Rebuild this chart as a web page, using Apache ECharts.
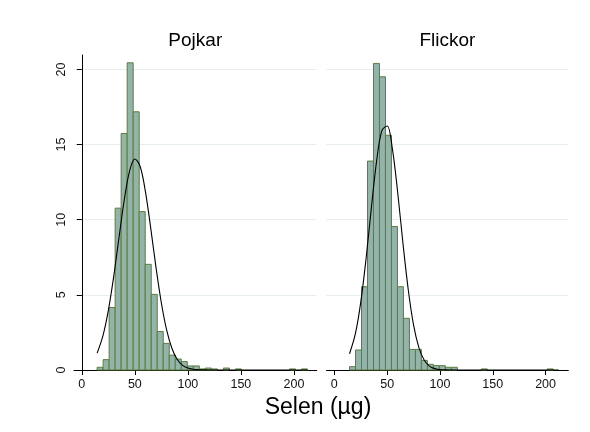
<!DOCTYPE html>
<html>
<head>
<meta charset="utf-8">
<script src="https://cdn.jsdelivr.net/npm/echarts@6/dist/echarts.min.js"></script>
<style>
  html, body { margin: 0; padding: 0; background: #fff; }
  #chart { width: 590px; height: 432px; }
</style>
</head>
<body>
<div id="chart"></div>
<script>
// Histogram bins shared by both panels (Selen, µg)
const binStart = 14.4;
const binWidth = 5.67;

// Percent of children in each bin
const pojkarPct = [0.18, 0.69, 4.16, 10.77, 15.74, 20.44, 17.18, 10.54, 7.03, 5.03,
                   2.56, 1.77, 0.99, 0.73, 0.56, 0.27, 0.27, 0.07, 0.13, 0.07,
                   0, 0.13, 0, 0.07, 0, 0, 0, 0, 0, 0,
                   0, 0, 0.07, 0, 0.07];
const flickorPct = [0.22, 1.33, 5.54, 13.9, 20.4, 19.51, 15.62, 9.55, 5.54, 3.44,
                    1.37, 1.37, 0.64, 0.38, 0.29, 0.29, 0.18, 0.18, 0, 0,
                    0, 0, 0.07, 0, 0, 0, 0, 0, 0, 0,
                    0, 0, 0, 0.07];

// Normal density overlay (percent scale)
const curveX = [14.4, 20, 25, 30, 35, 40, 45, 50, 55, 60, 65, 70, 75, 80, 85, 90,
                95, 100, 105, 110, 115, 120, 140, 160, 180, 200, 212.5];
const pojkarCurve = [1.12, 2.31, 3.97, 6.20, 8.79, 11.31, 13.23, 14.04, 13.54, 11.85,
                     9.42, 6.80, 4.46, 2.65, 1.43, 0.70, 0.31, 0.13, 0.05, 0.02, 0.01,
                     0, 0, 0, 0, 0, 0];
const flickorCurve = [1.08, 2.43, 4.50, 7.37, 10.74, 13.88, 15.93, 16.24, 14.70, 11.81,
                      8.42, 5.34, 3.00, 1.50, 0.66, 0.26, 0.09, 0.03, 0.01, 0, 0,
                      0, 0, 0, 0, 0, 0];

const panelTitles = ['Pojkar', 'Flickor'];
const xTicks = [0, 50, 100, 150, 200];
const yTicks = [0, 5, 10, 15, 20];
const xTitle = 'Selen (µg)';

const FONT = '"Liberation Sans", Arial, sans-serif';
const BAR_FILL = '#95b4a8';
const BAR_EDGE = '#5b7d3b';
const GRID_COLOR = '#e6eeee';

function binData(pcts) {
  return pcts.map((v, i) => [binStart + i * binWidth, binStart + (i + 1) * binWidth, v])
             .filter(d => d[2] > 0);
}

function renderBin(params, api) {
  const x0 = api.value(0), x1 = api.value(1), h = api.value(2);
  const tl = api.coord([x0, h]);
  const br = api.coord([x1, 0]);
  return {
    type: 'rect',
    shape: { x: tl[0], y: tl[1], width: br[0] - tl[0], height: br[1] - tl[1] },
    style: { fill: BAR_FILL, stroke: BAR_EDGE, lineWidth: 1 }
  };
}

const grids = [
  { left: 74, top: 55, width: 242.7, height: 315 },
  { left: 326.5, top: 55, width: 241.8, height: 315 }
];

const xAxes = grids.map((g, i) => ({
  type: 'value', gridIndex: i, min: -7.4, max: 221.5,
  axisLine: { show: true, onZero: false, lineStyle: { color: '#000', width: 1 } },
  axisTick: { show: true, customValues: xTicks, length: 5, lineStyle: { color: '#000' } },
  axisLabel: { show: true, customValues: xTicks, color: '#111', fontSize: 12.5,
               fontFamily: FONT, margin: 8 },
  splitLine: { show: false }
}));

const yAxes = grids.map((g, i) => ({
  type: 'value', gridIndex: i, min: 0, max: 20.96,
  axisLine: { show: i === 0, lineStyle: { color: '#000', width: 1 } },
  axisTick: { show: i === 0, customValues: yTicks, length: 5, lineStyle: { color: '#000' } },
  axisLabel: { show: i === 0, customValues: yTicks, rotate: 90, color: '#111',
               fontSize: 12.5, fontFamily: FONT, margin: 6 },
  splitLine: { show: true, lineStyle: { color: GRID_COLOR, width: 1 } }
}));

const series = [];
[pojkarPct, flickorPct].forEach((pcts, i) => {
  series.push({
    type: 'custom', xAxisIndex: i, yAxisIndex: i,
    renderItem: renderBin, data: binData(pcts), silent: true
  });
});
[pojkarCurve, flickorCurve].forEach((vals, i) => {
  series.push({
    type: 'line', xAxisIndex: i, yAxisIndex: i,
    data: curveX.map((x, k) => [x, vals[k]]),
    smooth: 0.35, showSymbol: false, silent: true,
    lineStyle: { color: '#000', width: 1.1 }, z: 5
  });
});

const chart = echarts.init(document.getElementById('chart'), null, { renderer: 'canvas' });
chart.setOption({
  animation: false,
  backgroundColor: '#fff',
  grid: grids,
  xAxis: xAxes,
  yAxis: yAxes,
  series: series,
  graphic: [
    { type: 'text', x: 195.3, y: 41, style: { text: panelTitles[0], fontSize: 19, fontFamily: FONT,
      fill: '#000', textAlign: 'center', textVerticalAlign: 'middle' } },
    { type: 'text', x: 447.4, y: 41, style: { text: panelTitles[1], fontSize: 19, fontFamily: FONT,
      fill: '#000', textAlign: 'center', textVerticalAlign: 'middle' } },
    { type: 'text', x: 318, y: 408, style: { text: xTitle, fontSize: 23, fontFamily: FONT,
      fill: '#000', textAlign: 'center', textVerticalAlign: 'middle' } }
  ]
});
</script>
</body>
</html>
